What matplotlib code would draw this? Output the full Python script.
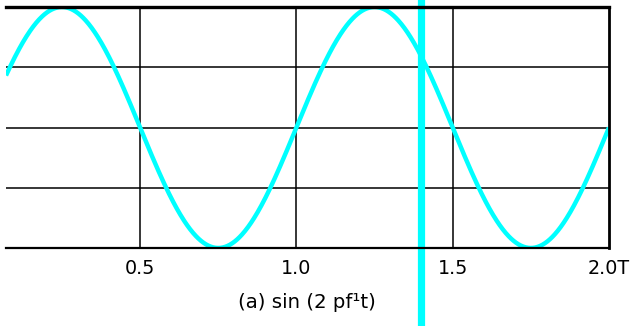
import numpy as np
import matplotlib
matplotlib.use("Agg")
import matplotlib.pyplot as plt
from matplotlib.transforms import blended_transform_factory

plt.rcParams['font.family'] = ['DejaVu Sans']

# ---- data ----
signal_frequency = 1.0          # f1, cycles per T
signal_amplitude = 1.0
time_range = [0.071, 2.0]       # visible span of t (in T)
marker_time = 1.4               # thick vertical marker
x_ticks = [0.5, 1.0, 1.5, 2.0]
x_tick_labels = ["0.5", "1.0", "1.5", "2.0T"]
y_grid = [-0.5, 0.0, 0.5]
caption = "(a) sin (2 pf\u00b9t)"

fig = plt.figure(figsize=(6.39, 3.26), dpi=100)
ax = fig.add_axes([6 / 639, 78 / 326, 603 / 639, 241 / 326])

t = np.linspace(time_range[0], time_range[1], 1000)
y = signal_amplitude * np.sin(2 * np.pi * signal_frequency * t)

# grid
for g in y_grid:
    ax.axhline(g, color='black', lw=1.1, zorder=1)
for xt in x_ticks[:-1]:
    ax.axvline(xt, color='black', lw=1.1, zorder=1)

ax.plot(t, y, color='#00FFFF', lw=3.2, zorder=3, solid_capstyle='butt')

trans = blended_transform_factory(ax.transData, ax.transAxes)
ax.plot([marker_time, marker_time], [1.035, -0.33], transform=trans,
        color='#00FFFF', lw=5.2, clip_on=False, zorder=4, solid_capstyle='butt')

ax.set_xlim(time_range)
ax.set_ylim(-1.0, 1.0)

ax.spines['left'].set_visible(False)
ax.spines['top'].set_linewidth(2.4)
ax.spines['bottom'].set_linewidth(1.6)
ax.spines['right'].set_linewidth(2.0)
for s in ax.spines.values():
    s.set_zorder(5)

ax.set_xticks(x_ticks)
ax.set_xticklabels(x_tick_labels, fontsize=13.8)
ax.tick_params(axis='x', length=0, pad=8)
ax.set_yticks([])

fig.text(307 / 639, (326 - 303) / 326, caption, ha='center', va='center', fontsize=14.2)

fig.savefig("out.png", dpi=100)
